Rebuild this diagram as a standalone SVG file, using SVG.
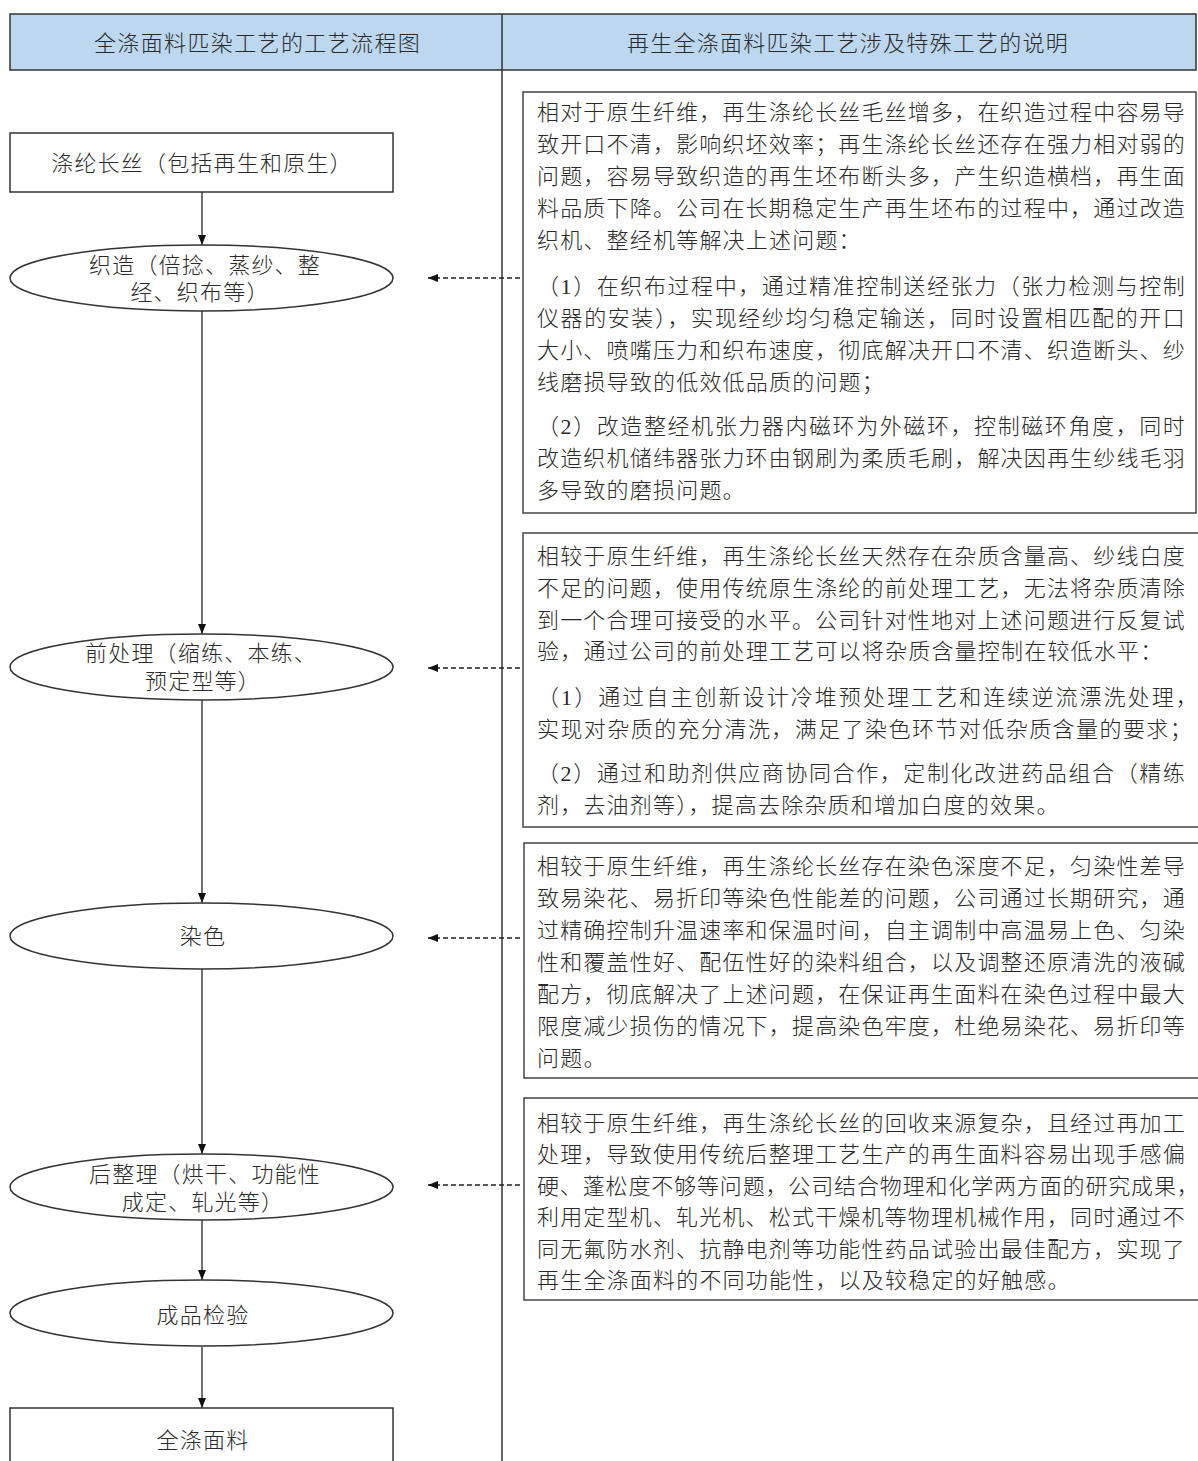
<svg xmlns="http://www.w3.org/2000/svg" width="1198" height="1461" viewBox="0 0 1198 1461">
<style>
text{font-family:"Liberation Serif","Noto Sans CJK SC",serif;font-size:22px;fill:#2a2a2a;letter-spacing:1.2px;font-weight:300}
.c{text-anchor:middle}
.shape{fill:#fff;stroke:#333;stroke-width:1.5}
.box{fill:#fff;stroke:#444;stroke-width:1.5}
.flow{stroke:#222;stroke-width:1.3;fill:none}
.dash{stroke:#222;stroke-width:1.3;fill:none;stroke-dasharray:5 3}
</style>
<defs>
<marker id="ah" viewBox="0 0 10 10" refX="10" refY="5" markerWidth="10" markerHeight="10" markerUnits="userSpaceOnUse" orient="auto">
<path d="M0,1 L10,5 L0,9 Z" fill="#111"/>
</marker>
</defs>
<rect width="1198" height="1461" fill="#fff"/>
<g id="header">
<rect x="10" y="14" width="1186" height="56" fill="#bdd7ee" stroke="#333" stroke-width="1.5"/>
<line x1="502" y1="14" x2="502" y2="1461" stroke="#333" stroke-width="1.5"/>
<text x="94" y="51" textLength="327" lengthAdjust="spacing">全涤面料匹染工艺的工艺流程图</text>
<text x="627" y="51" textLength="442" lengthAdjust="spacing">再生全涤面料匹染工艺涉及特殊工艺的说明</text>
</g>
<g id="connectors">
<line class="flow" x1="202" y1="192" x2="202" y2="245" marker-end="url(#ah)"/>
<line class="flow" x1="202" y1="311" x2="202" y2="634" marker-end="url(#ah)"/>
<line class="flow" x1="202" y1="700" x2="202" y2="903" marker-end="url(#ah)"/>
<line class="flow" x1="202" y1="969" x2="202" y2="1154" marker-end="url(#ah)"/>
<line class="flow" x1="202" y1="1220" x2="202" y2="1280" marker-end="url(#ah)"/>
<line class="flow" x1="202" y1="1347" x2="202" y2="1408" marker-end="url(#ah)"/>
<line class="dash" x1="520" y1="278" x2="428" y2="278" marker-end="url(#ah)"/>
<line class="dash" x1="520" y1="668" x2="428" y2="668" marker-end="url(#ah)"/>
<line class="dash" x1="520" y1="938" x2="428" y2="938" marker-end="url(#ah)"/>
<line class="dash" x1="520" y1="1185" x2="428" y2="1185" marker-end="url(#ah)"/>
</g>
<g id="n-start">
<rect class="shape" x="10" y="133" width="383" height="59"/>
<text class="c" x="202" y="171">涤纶长丝（包括再生和原生）</text>
</g>
<g id="n-weave">
<ellipse class="shape" cx="201.5" cy="278" rx="191.5" ry="33"/>
<text class="c" x="205" y="273">织造（倍捻、蒸纱、整</text>
<text class="c" x="200" y="300">经、织布等）</text>
</g>
<g id="n-pre">
<ellipse class="shape" cx="201.5" cy="667" rx="191.5" ry="33"/>
<text class="c" x="201" y="661">前处理（缩练、本练、</text>
<text class="c" x="203" y="689">预定型等）</text>
</g>
<g id="n-dye">
<ellipse class="shape" cx="201.5" cy="936" rx="191.5" ry="33"/>
<text class="c" x="203" y="944">染色</text>
</g>
<g id="n-finish">
<ellipse class="shape" cx="201.5" cy="1187" rx="191.5" ry="33"/>
<text class="c" x="205" y="1182">后整理（烘干、功能性</text>
<text class="c" x="203" y="1210">成定、轧光等）</text>
</g>
<g id="n-inspect">
<ellipse class="shape" cx="201.5" cy="1313" rx="191.5" ry="33"/>
<text class="c" x="203" y="1323">成品检验</text>
</g>
<g id="n-end">
<rect class="shape" x="10" y="1408" width="383" height="70"/>
<text class="c" x="203" y="1448">全涤面料</text>
</g>
<g id="note-weave">
<rect class="box" x="523" y="92" width="673" height="421"/>
<text x="537" y="120" textLength="649" lengthAdjust="spacing">相对于原生纤维，再生涤纶长丝毛丝增多，在织造过程中容易导</text>
<text x="537" y="152" textLength="649" lengthAdjust="spacing">致开口不清，影响织坯效率；再生涤纶长丝还存在强力相对弱的</text>
<text x="537" y="184" textLength="649" lengthAdjust="spacing">问题，容易导致织造的再生坯布断头多，产生织造横档，再生面</text>
<text x="537" y="216" textLength="649" lengthAdjust="spacing">料品质下降。公司在长期稳定生产再生坯布的过程中，通过改造</text>
<text x="537" y="248">织机、整经机等解决上述问题：</text>
<text x="537" y="294" textLength="649" lengthAdjust="spacing">（1）在织布过程中，通过精准控制送经张力（张力检测与控制</text>
<text x="537" y="326" textLength="649" lengthAdjust="spacing">仪器的安装），实现经纱均匀稳定输送，同时设置相匹配的开口</text>
<text x="537" y="358" textLength="649" lengthAdjust="spacing">大小、喷嘴压力和织布速度，彻底解决开口不清、织造断头、纱</text>
<text x="537" y="390">线磨损导致的低效低品质的问题；</text>
<text x="537" y="434" textLength="649" lengthAdjust="spacing">（2）改造整经机张力器内磁环为外磁环，控制磁环角度，同时</text>
<text x="537" y="466" textLength="649" lengthAdjust="spacing">改造织机储纬器张力环由钢刷为柔质毛刷，解决因再生纱线毛羽</text>
<text x="537" y="498">多导致的磨损问题。</text>
</g>
<g id="note-pre">
<rect class="box" x="523" y="533" width="680" height="294"/>
<text x="537" y="564" textLength="649" lengthAdjust="spacing">相较于原生纤维，再生涤纶长丝天然存在杂质含量高、纱线白度</text>
<text x="537" y="596" textLength="649" lengthAdjust="spacing">不足的问题，使用传统原生涤纶的前处理工艺，无法将杂质清除</text>
<text x="537" y="628" textLength="649" lengthAdjust="spacing">到一个合理可接受的水平。公司针对性地对上述问题进行反复试</text>
<text x="537" y="659">验，通过公司的前处理工艺可以将杂质含量控制在较低水平：</text>
<text x="537" y="705" textLength="662" lengthAdjust="spacing">（1）通过自主创新设计冷堆预处理工艺和连续逆流漂洗处理，</text>
<text x="537" y="737" textLength="656" lengthAdjust="spacing">实现对杂质的充分清洗，满足了染色环节对低杂质含量的要求；</text>
<text x="537" y="781" textLength="649" lengthAdjust="spacing">（2）通过和助剂供应商协同合作，定制化改进药品组合（精练</text>
<text x="537" y="813">剂，去油剂等），提高去除杂质和增加白度的效果。</text>
</g>
<g id="note-dye">
<rect class="box" x="524" y="843" width="680" height="235"/>
<text x="537" y="874" textLength="649" lengthAdjust="spacing">相较于原生纤维，再生涤纶长丝存在染色深度不足，匀染性差导</text>
<text x="537" y="906" textLength="649" lengthAdjust="spacing">致易染花、易折印等染色性能差的问题，公司通过长期研究，通</text>
<text x="537" y="938" textLength="649" lengthAdjust="spacing">过精确控制升温速率和保温时间，自主调制中高温易上色、匀染</text>
<text x="537" y="970" textLength="649" lengthAdjust="spacing">性和覆盖性好、配伍性好的染料组合，以及调整还原清洗的液碱</text>
<text x="537" y="1002" textLength="649" lengthAdjust="spacing">配方，彻底解决了上述问题，在保证再生面料在染色过程中最大</text>
<text x="537" y="1034" textLength="649" lengthAdjust="spacing">限度减少损伤的情况下，提高染色牢度，杜绝易染花、易折印等</text>
<text x="537" y="1066">问题。</text>
</g>
<g id="note-finish">
<rect class="box" x="524" y="1098" width="680" height="202"/>
<text x="537" y="1131" textLength="649" lengthAdjust="spacing">相较于原生纤维，再生涤纶长丝的回收来源复杂，且经过再加工</text>
<text x="537" y="1162" textLength="649" lengthAdjust="spacing">处理，导致使用传统后整理工艺生产的再生面料容易出现手感偏</text>
<text x="537" y="1194" textLength="663" lengthAdjust="spacing">硬、蓬松度不够等问题，公司结合物理和化学两方面的研究成果，</text>
<text x="537" y="1225" textLength="649" lengthAdjust="spacing">利用定型机、轧光机、松式干燥机等物理机械作用，同时通过不</text>
<text x="537" y="1257" textLength="649" lengthAdjust="spacing">同无氟防水剂、抗静电剂等功能性药品试验出最佳配方，实现了</text>
<text x="537" y="1288">再生全涤面料的不同功能性，以及较稳定的好触感。</text>
</g>
</svg>
